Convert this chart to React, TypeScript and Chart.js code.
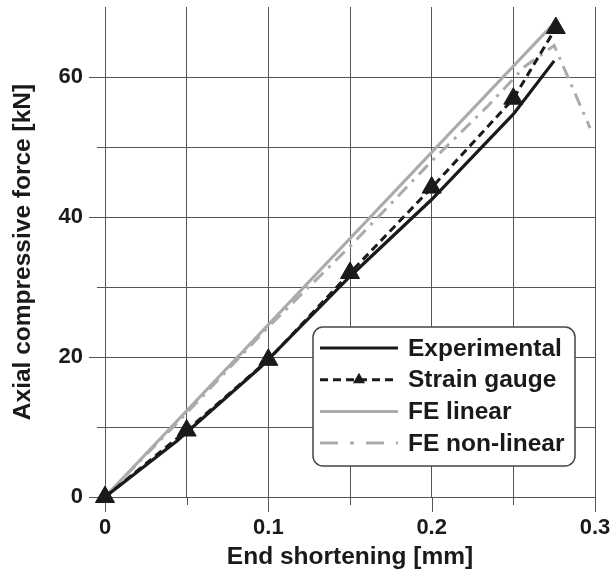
import { useEffect, useRef } from "react";
import { Chart, registerables } from "chart.js";

Chart.register(...registerables);

const FONT = '"Liberation Sans", Arial, Helvetica, sans-serif';

// ---- data ----
const expX = [0, 0.044, 0.095, 0.15, 0.2, 0.225, 0.25, 0.275];
const expY = [0, 8.0, 18.5, 31.5, 42.5, 48.6, 54.7, 62.3];

const sgX = [0, 0.05, 0.1, 0.15, 0.2, 0.25, 0.276];
const sgY = [0, 9.5, 19.6, 32.0, 44.2, 56.9, 67.0];

const felX = [0, 0.275];
const felY = [0, 67.7];

const fenX = [0, 0.05, 0.1, 0.15, 0.2, 0.235, 0.257, 0.275, 0.297];
const fenY = [0, 12.0, 24.3, 35.8, 48.0, 56.0, 61.5, 64.5, 52.7];

const seriesLabels = ["Experimental", "Strain gauge", "FE linear", "FE non-linear"];

const xTickValues = [0, 0.1, 0.2, 0.3];
const xTickLabels = ["0", "0.1", "0.2", "0.3"];
const yTickValues = [0, 20, 40, 60];
const yTickLabels = ["0", "20", "40", "60"];

const BLACK = "#1a1a1a";
const GRAY = "#ababab";
const GRID = "#555555";

const legendDash: number[][] = [[], [8, 5], [], [18, 12, 4, 12]];

const toPts = (xs: number[], ys: number[]) => xs.map((x, i) => ({ x, y: ys[i] }));

const findLabel = (v: number, vals: number[], labels: string[]) => {
  for (let i = 0; i < vals.length; i++) {
    if (Math.abs(v - vals[i]) < 1e-6) return labels[i];
  }
  return "";
};

const tickMarks = {
  id: "tickMarks",
  beforeDatasetsDraw(chart: any) {
    const { ctx, chartArea } = chart;
    const xs = chart.scales.x;
    const ys = chart.scales.y;
    ctx.save();
    ctx.strokeStyle = GRID;
    ctx.lineWidth = 1;
    xs.ticks.forEach((t: any) => {
      const px = Math.round(xs.getPixelForValue(t.value)) + 0.5;
      const major = findLabel(t.value, xTickValues, xTickLabels) !== "";
      ctx.beginPath();
      ctx.moveTo(px, chartArea.bottom);
      ctx.lineTo(px, chartArea.bottom + (major ? 15 : 8));
      ctx.stroke();
    });
    ys.ticks.forEach((t: any) => {
      if (t.value > 65) return;
      const py = Math.round(ys.getPixelForValue(t.value)) + 0.5;
      const major = findLabel(t.value, yTickValues, yTickLabels) !== "";
      ctx.beginPath();
      ctx.moveTo(chartArea.left, py);
      ctx.lineTo(chartArea.left - (major ? 16 : 8), py);
      ctx.stroke();
    });
    ctx.restore();
  },
};

const boxLegend = {
  id: "boxLegend",
  afterDraw(chart: any) {
    const { ctx, chartArea } = chart;
    const w = 262;
    const h = 139;
    const right = chartArea.right - 20;
    const bottom = chartArea.bottom - 31;
    const left = right - w;
    const top = bottom - h;
    const r = 10;
    ctx.save();
    ctx.beginPath();
    ctx.moveTo(left + r, top);
    ctx.lineTo(right - r, top);
    ctx.arcTo(right, top, right, top + r, r);
    ctx.lineTo(right, bottom - r);
    ctx.arcTo(right, bottom, right - r, bottom, r);
    ctx.lineTo(left + r, bottom);
    ctx.arcTo(left, bottom, left, bottom - r, r);
    ctx.lineTo(left, top + r);
    ctx.arcTo(left, top, left + r, top, r);
    ctx.closePath();
    ctx.fillStyle = "#ffffff";
    ctx.fill();
    ctx.strokeStyle = "#444444";
    ctx.lineWidth = 1.5;
    ctx.stroke();

    chart.data.datasets.forEach((ds: any, i: number) => {
      const cy = top + 21 + i * 31.7;
      const x1 = left + 7;
      const x2 = left + 85;
      ctx.beginPath();
      ctx.setLineDash(legendDash[i]);
      ctx.strokeStyle = ds.borderColor;
      ctx.lineWidth = ds.borderWidth;
      ctx.lineCap = "butt";
      ctx.moveTo(x1, cy);
      ctx.lineTo(x2, cy);
      ctx.stroke();
      ctx.setLineDash([]);
      if (ds.pointRadius > 0) {
        const mx = (x1 + x2) / 2;
        const rr = 7;
        ctx.beginPath();
        ctx.moveTo(mx, cy - rr);
        ctx.lineTo(mx + rr * 0.866, cy + rr * 0.5);
        ctx.lineTo(mx - rr * 0.866, cy + rr * 0.5);
        ctx.closePath();
        ctx.fillStyle = BLACK;
        ctx.fill();
      }
      ctx.fillStyle = BLACK;
      ctx.font = `bold 24.5px ${FONT}`;
      ctx.textAlign = "left";
      ctx.textBaseline = "middle";
      ctx.fillText(ds.label, left + 95, cy + 1);
    });
    ctx.restore();
  },
};

export default function App() {
  const ref = useRef<HTMLCanvasElement | null>(null);

  useEffect(() => {
    if (!ref.current) return;
    Chart.defaults.font.family = FONT;
    const chart = new Chart(ref.current, {
      type: "line",
      data: {
        datasets: [
          {
            label: seriesLabels[0],
            data: toPts(expX, expY),
            borderColor: BLACK,
            backgroundColor: BLACK,
            borderWidth: 3.2,
            pointRadius: 0,
            tension: 0,
          },
          {
            label: seriesLabels[1],
            data: toPts(sgX, sgY),
            borderColor: BLACK,
            backgroundColor: BLACK,
            borderWidth: 3,
            borderDash: [8, 5],
            pointStyle: "triangle",
            pointRadius: 11,
            pointBackgroundColor: BLACK,
            pointBorderColor: BLACK,
            pointBorderWidth: 1,
            tension: 0,
            clip: false,
          },
          {
            label: seriesLabels[2],
            data: toPts(felX, felY),
            borderColor: GRAY,
            backgroundColor: GRAY,
            borderWidth: 3,
            pointRadius: 0,
            tension: 0,
          },
          {
            label: seriesLabels[3],
            data: toPts(fenX, fenY),
            borderColor: GRAY,
            backgroundColor: GRAY,
            borderWidth: 3,
            borderDash: [13, 7, 3, 7],
            pointRadius: 0,
            tension: 0,
          },
        ] as any,
      },
      options: {
        animation: false,
        responsive: false,
        maintainAspectRatio: false,
        layout: { autoPadding: false, padding: { top: 7, right: 17, left: 0, bottom: 0 } },
        plugins: {
          legend: { display: false },
          tooltip: { enabled: false },
        },
        scales: {
          x: {
            type: "linear",
            min: 0,
            max: 0.3,
            afterFit: (s: any) => {
              s.height = 90;
              s.paddingLeft = 0;
              s.paddingRight = 0;
            },
            ticks: {
              stepSize: 0.05,
              padding: 18,
              autoSkip: false,
              maxRotation: 0,
              color: BLACK,
              font: { size: 22, weight: "bold", family: FONT },
              callback: (v: any) => findLabel(Number(v), xTickValues, xTickLabels),
            },
            grid: { color: GRID, lineWidth: 1, drawTicks: false },
            border: { color: GRID, width: 1 },
            title: {
              display: true,
              text: "End shortening [mm]",
              color: BLACK,
              font: { size: 24.5, weight: "bold", family: FONT },
              padding: { top: 0, bottom: 15 },
            },
          },
          y: {
            type: "linear",
            min: 0,
            max: 70,
            afterFit: (s: any) => {
              s.width = 105;
              s.paddingTop = 0;
              s.paddingBottom = 0;
            },
            ticks: {
              stepSize: 10,
              padding: 22,
              autoSkip: false,
              color: BLACK,
              font: { size: 22, weight: "bold", family: FONT },
              callback: (v: any) => findLabel(Number(v), yTickValues, yTickLabels),
            },
            grid: {
              color: (c: any) => (c.tick && c.tick.value > 65 ? "rgba(0,0,0,0)" : GRID),
              lineWidth: 1,
              drawTicks: false,
            },
            border: { color: GRID, width: 1 },
            title: {
              display: true,
              text: "Axial compressive force [kN]",
              color: BLACK,
              font: { size: 24.5, weight: "bold", family: FONT },
              padding: { top: 9, bottom: 0 },
            },
          },
        },
      } as any,
      plugins: [tickMarks, boxLegend],
    });
    return () => chart.destroy();
  }, []);

  return (
    <div style={{ position: "absolute", left: 0, top: 0, width: 612, height: 587, background: "#fff" }}>
      <canvas ref={ref} width={612} height={587} style={{ width: 612, height: 587, display: "block" }} />
    </div>
  );
}
